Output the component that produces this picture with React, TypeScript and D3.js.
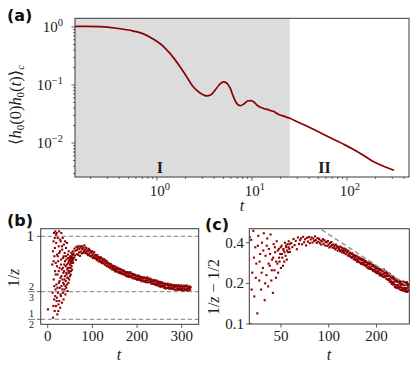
import React from "react";
import * as d3 from "d3";

// panel (a): correlation curve
const curveT = [0.137, 0.18, 0.25, 0.376, 0.565, 0.72, 0.91, 1.17, 1.37, 1.75, 2.05, 2.37, 2.84, 3.33, 3.7, 4.1, 4.5, 5.0, 5.4, 5.9, 6.3, 6.8, 7.5, 8.2, 9.0, 9.8, 10.6, 11.5, 12.5, 13.5, 14.5, 15.8, 17, 18.5, 20, 22, 25, 30, 40, 55, 72, 95, 116, 150, 189, 250, 313];
const curveV = [1.02, 1.02, 1.01, 0.95, 0.85, 0.76, 0.62, 0.46, 0.35, 0.207, 0.139, 0.096, 0.073, 0.065, 0.068, 0.082, 0.1, 0.113, 0.108, 0.088, 0.066, 0.05, 0.044, 0.047, 0.053, 0.054, 0.05, 0.044, 0.041, 0.039, 0.038, 0.036, 0.035, 0.032, 0.0302, 0.0288, 0.0268, 0.0232, 0.0187, 0.0145, 0.0116, 0.0093, 0.0078, 0.0061, 0.0048, 0.0039, 0.0034];
const shadeEnd = 25;

// panels (b),(c): 1/z estimates, early noisy part
const earlyT = [0.5, 10.2, 11.1, 11.8, 12, 12.6, 13, 13.2, 13.5, 14, 14.5, 14.8, 15, 15.5, 15.7, 16, 16.5, 16.8, 17, 17.5, 17.8, 18, 18.5, 18.7, 19, 19.5, 19.8, 20, 20.5, 20.7, 21, 21.5, 21.8, 22, 22.5, 22.7, 23, 23.5, 23.8, 24, 24.5, 24.7, 25, 25.5, 25.8, 26, 26.5, 26.7, 27, 27.5, 27.8, 28, 28.5, 28.7, 29, 29.5, 29.8, 30, 30.5, 30.7, 31, 31.5, 31.8, 32, 32.5, 32.7, 33, 33.5, 33.8, 34, 34.5, 34.7, 35, 35.5, 35.8, 36, 36.5, 36.7, 37, 37.5, 37.8, 38, 38.5, 38.7, 39, 39.5, 39.8, 40, 40.5, 40.7, 41, 41.5, 41.8, 42, 42.5, 42.7, 43, 43.5, 43.8, 44, 44.5, 44.7, 45, 45.5, 45.8, 46, 46.5, 46.7, 47, 47.5, 47.8, 48, 48.5, 48.7, 49, 49.5, 49.8, 50, 50.5, 50.7, 51, 51.5, 51.8, 52, 52.5, 52.7, 53, 53.5, 53.8, 54, 54.5, 54.7, 55, 55.5, 55.8, 56, 56.5, 56.7];
const earlyV = [0.56, 0.83, 0.66, 0.91, 0.51, 0.58, 0.97, 0.85, 0.74, 1.02, 0.62, 0.70, 0.88, 0.55, 0.99, 0.93, 0.79, 0.64, 1.03, 0.68, 0.77, 0.84, 0.58, 1.01, 0.96, 0.71, 0.61, 1.02, 0.63, 0.82, 0.89, 0.53, 0.69, 0.77, 0.99, 0.88, 0.66, 0.85, 0.55, 0.59, 0.94, 0.79, 0.72, 1.03, 0.90, 0.61, 0.81, 0.73, 0.69, 0.91, 0.98, 0.57, 0.75, 0.65, 0.97, 0.64, 0.83, 0.86, 1.02, 0.76, 0.70, 0.80, 0.94, 0.60, 0.92, 0.68, 0.74, 0.99, 0.81, 0.66, 0.87, 0.72, 0.78, 0.62, 0.88, 0.95, 0.71, 0.79, 0.83, 0.68, 0.74, 0.90, 0.76, 0.85, 0.97, 0.65, 0.70, 0.82, 0.73, 0.88, 0.93, 0.69, 0.78, 0.86, 0.77, 0.83, 0.96, 0.71, 0.75, 0.80, 0.67, 0.81, 0.89, 0.75, 0.87, 0.84, 0.72, 0.79, 0.91, 0.78, 0.85, 0.74, 0.86, 0.81, 0.79, 0.83, 0.87, 0.76, 0.88, 0.83, 0.81, 0.77, 0.86, 0.85, 0.79, 0.84, 0.90, 0.82, 0.88, 0.87, 0.80, 0.85, 0.89, 0.84, 0.87, 0.91, 0.86, 0.89];
// steady part, one value per unit time from t = 57 to 320
const bandT = d3.range(57, 321);
const bandV = [
  0.842, 0.897, 0.871, 0.926, 0.884, 0.913, 0.858, 0.937, 0.892, 0.918,
  0.931, 0.889, 0.942, 0.903, 0.924, 0.882, 0.935, 0.908, 0.941, 0.897,
  0.923, 0.938, 0.901, 0.929, 0.912, 0.946, 0.918, 0.899, 0.933, 0.907,
  0.927, 0.896, 0.915, 0.887, 0.909, 0.925, 0.893, 0.917, 0.881, 0.906,
  0.902, 0.879, 0.911, 0.888, 0.869, 0.898, 0.876, 0.905, 0.884, 0.868,
  0.889, 0.866, 0.879, 0.857, 0.887, 0.864, 0.876, 0.849, 0.873, 0.858,
  0.868, 0.846, 0.874, 0.853, 0.839, 0.866, 0.847, 0.859, 0.836, 0.862,
  0.848, 0.829, 0.856, 0.837, 0.845, 0.821, 0.849, 0.826, 0.838, 0.817,
  0.836, 0.814, 0.829, 0.808, 0.834, 0.816, 0.825, 0.801, 0.823, 0.809,
  0.818, 0.797, 0.821, 0.804, 0.789, 0.815, 0.796, 0.808, 0.787, 0.811,
  0.801, 0.785, 0.806, 0.779, 0.798, 0.784, 0.803, 0.776, 0.795, 0.782,
  0.797, 0.772, 0.788, 0.775, 0.793, 0.768, 0.786, 0.773, 0.762, 0.784,
  0.779, 0.758, 0.785, 0.766, 0.776, 0.756, 0.781, 0.763, 0.784, 0.755,
  0.775, 0.754, 0.768, 0.748, 0.774, 0.752, 0.766, 0.745, 0.769, 0.753,
  0.765, 0.743, 0.758, 0.739, 0.764, 0.746, 0.757, 0.737, 0.762, 0.744,
  0.756, 0.736, 0.751, 0.729, 0.754, 0.738, 0.749, 0.733, 0.752, 0.727,
  0.751, 0.732, 0.745, 0.724, 0.748, 0.735, 0.753, 0.722, 0.739, 0.744,
  0.728, 0.746, 0.725, 0.738, 0.716, 0.741, 0.727, 0.735, 0.714, 0.733,
  0.726, 0.712, 0.737, 0.715, 0.729, 0.706, 0.734, 0.713, 0.724, 0.704,
  0.728, 0.707, 0.719, 0.698, 0.726, 0.705, 0.717, 0.696, 0.724, 0.703,
  0.719, 0.697, 0.714, 0.706, 0.688, 0.716, 0.695, 0.709, 0.686, 0.713,
  0.708, 0.689, 0.715, 0.694, 0.705, 0.684, 0.707, 0.693, 0.712, 0.686,
  0.706, 0.687, 0.699, 0.681, 0.707, 0.688, 0.703, 0.694, 0.679, 0.705,
  0.698, 0.679, 0.704, 0.686, 0.697, 0.677, 0.706, 0.684, 0.695, 0.678,
  0.699, 0.683, 0.705, 0.676, 0.694, 0.685, 0.698, 0.674, 0.703, 0.682,
  0.696, 0.677, 0.701, 0.684, 0.704, 0.673, 0.695, 0.686, 0.675, 0.698,
  0.687, 0.697, 0.678, 0.693,
];
const refLines = [1, 2 / 3, 1 / 2];
const bTicks = [0, 100, 200, 300];
const cXTicks = [50, 100, 200];
const cYTicks = [0.1, 0.2, 0.4];
const fitT = [90, 322];
const fitV = [0.5, 0.188];

const RED = "#8b0000";
const SPINE = "#3a3a3a";
const TXT = "#1a1a1a";
const SERIF = "'Liberation Serif', 'DejaVu Serif', serif";
const SANS = "'DejaVu Sans', sans-serif";
const DOT = 2.1;

const isMajor = (t: number) => Math.abs(Math.log10(t) - Math.round(Math.log10(t))) < 1e-6;

function Pow({ x, y, e, anchor }: { x: number; y: number; e: number; anchor: string }) {
  return (
    <text x={x} y={y} textAnchor={anchor} fontFamily={SERIF} fontSize={15} fill={TXT}>
      10<tspan dy={-6} fontSize={10.5}>{e < 0 ? "\u2212" + -e : e}</tspan>
    </text>
  );
}

export default function App() {
  // panel (a)
  const aX = d3.scaleLog().domain([0.137, 450]).range([75, 409]);
  const aY = d3.scaleLog().domain([0.0026, 1.41]).range([177, 18.3]);
  const aLine = d3
    .line<number>()
    .x((_, i) => aX(curveT[i]))
    .y((d) => aY(d))
    .curve(d3.curveMonotoneX);
  const [ax0, ax1] = aX.range();
  const [ay0, ay1] = aY.range();

  // panel (b)
  const bX = d3.scaleLinear().domain([-15.7, 338]).range([40.7, 198.7]);
  const bY = d3.scaleLinear().domain([0.47, 1.046]).range([324.3, 228.7]);
  // panel (c)
  const cX = d3.scaleLog().domain([31.6, 322]).range([249.3, 409.3]);
  const cY = d3.scaleLog().domain([0.1, 0.508]).range([324, 228.7]);
  const fitLine = d3
    .line<number>()
    .x((_, i) => cX(fitT[i]))
    .y((d) => cY(d));

  const allT = [...earlyT, ...bandT];
  const allV = [...earlyV, ...bandV];

  const frame = (x0: number, x1: number, y0: number, y1: number) => (
    <rect x={x0} y={y1} width={x1 - x0} height={y0 - y1} fill="none" stroke={SPINE} strokeWidth={1} />
  );

  return (
    <svg width={415} height={370} style={{ position: "absolute", left: 0, top: 0, background: "#fff" }}>
      <defs>
        <clipPath id="clipB">
          <rect x={40.7} y={228.7} width={158} height={95.6} />
        </clipPath>
        <clipPath id="clipC">
          <rect x={249.3} y={228.7} width={160} height={95.3} />
        </clipPath>
      </defs>

      {/* ---------- (a) ---------- */}
      <rect x={ax0} y={ay1} width={aX(shadeEnd) - ax0} height={ay0 - ay1} fill="#dcdcdc" />
      <path d={aLine(curveV) || ""} fill="none" stroke={RED} strokeWidth={1.7} />
      {frame(ax0, ax1, ay0, ay1)}
      {aX.ticks().map((t) => (
        <line key={"ax" + t} x1={aX(t)} x2={aX(t)} y1={ay0} y2={ay0 + (isMajor(t) ? 3.5 : 2)} stroke={SPINE} strokeWidth={0.8} />
      ))}
      {aY.ticks().map((t) => (
        <line key={"ay" + t} x1={ax0} x2={ax0 - (isMajor(t) ? 3.5 : 2)} y1={aY(t)} y2={aY(t)} stroke={SPINE} strokeWidth={0.8} />
      ))}
      {aX.ticks().filter(isMajor).map((t) => (
        <Pow key={"axl" + t} x={aX(t) + 3} y={196} e={Math.round(Math.log10(t))} anchor="middle" />
      ))}
      {aY.ticks().filter(isMajor).map((t) => (
        <Pow key={"ayl" + t} x={ax0 - 12} y={aY(t) + 5} e={Math.round(Math.log10(t))} anchor="end" />
      ))}
      <text x={aX(1.07)} y={173} textAnchor="middle" fontFamily={SERIF} fontWeight="bold" fontSize={16} fill={TXT}>I</text>
      <text x={aX(58)} y={173} textAnchor="middle" fontFamily={SERIF} fontWeight="bold" fontSize={16} fill={TXT}>II</text>
      <text x={242} y={211} textAnchor="middle" fontFamily={SERIF} fontStyle="italic" fontSize={16} fill={TXT}>t</text>
      <text transform="translate(21,105) rotate(-90)" textAnchor="middle" fontFamily={SERIF} fontSize={16.5} fill={TXT}>
        {"\u27e8"}<tspan fontStyle="italic">h</tspan><tspan dy={3} fontSize={11}>0</tspan>
        <tspan dy={-3}>(0)</tspan><tspan fontStyle="italic">h</tspan><tspan dy={3} fontSize={11}>0</tspan>
        <tspan dy={-3}>(</tspan><tspan fontStyle="italic">t</tspan>)<tspan>{"\u27e9"}</tspan>
        <tspan dy={3} fontSize={11} fontStyle="italic">c</tspan>
      </text>
      <text x={7} y={21} fontFamily={SANS} fontWeight="bold" fontSize={16} fill="#111">(a)</text>

      {/* ---------- (b) ---------- */}
      {refLines.map((v) => (
        <line key={"rl" + v} x1={40.7} x2={198.7} y1={bY(v)} y2={bY(v)} stroke="#999" strokeWidth={1.2} strokeDasharray="4.5,2.5" />
      ))}
      <g clipPath="url(#clipB)">
        {allT.map((t, i) => (
          <rect key={"b" + i} x={bX(t) - DOT / 2} y={bY(allV[i]) - DOT / 2} width={DOT} height={DOT} fill={RED} />
        ))}
      </g>
      {frame(40.7, 198.7, 324.3, 228.7)}
      {bTicks.map((t) => (
        <g key={"bt" + t}>
          <line x1={bX(t)} x2={bX(t)} y1={324.3} y2={328} stroke={SPINE} strokeWidth={0.8} />
          <text x={bX(t)} y={341} textAnchor="middle" fontFamily={SERIF} fontSize={15} fill={TXT}>{t}</text>
        </g>
      ))}
      {refLines.map((v) => (
        <line key={"byt" + v} x1={40.7} x2={37} y1={bY(v)} y2={bY(v)} stroke={SPINE} strokeWidth={0.8} />
      ))}
      <text x={34} y={bY(1) + 5} textAnchor="end" fontFamily={SERIF} fontSize={15} fill={TXT}>1</text>
      {[[2, 3], [1, 2]].map(([n, d]) => (
        <g key={"fr" + d} fontFamily={SERIF} fontSize={10} fill={TXT}>
          <text x={31.5} y={bY(n / d) - 2} textAnchor="middle">{n}</text>
          <line x1={28} x2={35} y1={bY(n / d)} y2={bY(n / d)} stroke={TXT} strokeWidth={0.6} />
          <text x={31.5} y={bY(n / d) + 9} textAnchor="middle">{d}</text>
        </g>
      ))}
      <text x={119} y={360} textAnchor="middle" fontFamily={SERIF} fontStyle="italic" fontSize={16} fill={TXT}>t</text>
      <text transform="translate(19,278) rotate(-90)" textAnchor="middle" fontFamily={SERIF} fontSize={16} fill={TXT}>
        1/<tspan fontStyle="italic">z</tspan>
      </text>
      <text x={7} y={226} fontFamily={SANS} fontWeight="bold" fontSize={16} fill="#111">(b)</text>

      {/* ---------- (c) ---------- */}
      <g clipPath="url(#clipC)">
        {allT.map((t, i) =>
          t >= 31 ? (
            <rect key={"c" + i} x={cX(t) - DOT / 2} y={cY(Math.max(allV[i] - 0.5, 0.05)) - DOT / 2} width={DOT} height={DOT} fill={RED} />
          ) : null
        )}
        <path d={fitLine(fitV) || ""} fill="none" stroke="#999" strokeWidth={1.5} strokeDasharray="5,3" />
      </g>
      {frame(249.3, 409.3, 324, 228.7)}
      {cXTicks.map((t) => (
        <g key={"cx" + t}>
          <line x1={cX(t)} x2={cX(t)} y1={324} y2={327.5} stroke={SPINE} strokeWidth={0.8} />
          <text x={cX(t)} y={341} textAnchor="middle" fontFamily={SERIF} fontSize={15} fill={TXT}>{t}</text>
        </g>
      ))}
      {cYTicks.map((t) => (
        <g key={"cy" + t}>
          <line x1={249.3} x2={245.8} y1={cY(t)} y2={cY(t)} stroke={SPINE} strokeWidth={0.8} />
          <text x={244} y={cY(t) + 5} textAnchor="end" fontFamily={SERIF} fontSize={15} fill={TXT}>{t.toFixed(1)}</text>
        </g>
      ))}
      <text x={329} y={360} textAnchor="middle" fontFamily={SERIF} fontStyle="italic" fontSize={16} fill={TXT}>t</text>
      <text transform="translate(219,287) rotate(-90)" textAnchor="middle" fontFamily={SERIF} fontSize={16} fill={TXT}>
        1/<tspan fontStyle="italic">z</tspan> {"\u2212"} 1/2
      </text>
      <text x={205} y={230} fontFamily={SANS} fontWeight="bold" fontSize={16} fill="#111">(c)</text>
    </svg>
  );
}
